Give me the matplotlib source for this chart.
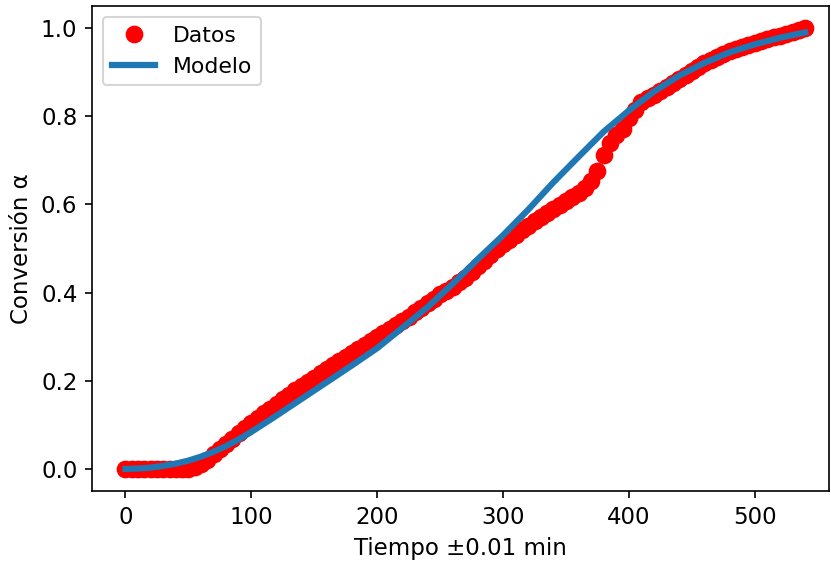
import numpy as np
import matplotlib
matplotlib.use("Agg")
import matplotlib.pyplot as plt

plt.rcParams['font.size'] = 11

t_datos = list(range(0, 545, 5))
alfa_datos = [0.0, 0.0, 0.0, 0.0, 0.0, 0.0, 0.0, 0.0, 0.0, 0.0, 0.001,
              0.004, 0.011, 0.021, 0.033, 0.045, 0.057, 0.069, 0.081, 0.093,
              0.105, 0.116, 0.126, 0.137, 0.147, 0.158, 0.168, 0.178, 0.188,
              0.198, 0.207, 0.217, 0.226, 0.236, 0.245, 0.254, 0.263, 0.273,
              0.282, 0.291, 0.300, 0.309, 0.318, 0.327, 0.336, 0.345, 0.355,
              0.365, 0.376, 0.386, 0.396, 0.404, 0.413, 0.423, 0.434, 0.447,
              0.460, 0.472, 0.485, 0.498, 0.510, 0.520, 0.530, 0.541, 0.552,
              0.562, 0.572, 0.581, 0.590, 0.599, 0.607, 0.616, 0.625, 0.638,
              0.652, 0.675, 0.712, 0.740, 0.757, 0.772, 0.795, 0.815, 0.833,
              0.841, 0.848, 0.857, 0.866, 0.876, 0.885, 0.894, 0.903, 0.912,
              0.920, 0.928, 0.935, 0.942, 0.948, 0.953, 0.958, 0.962, 0.966,
              0.971, 0.975, 0.979, 0.983, 0.987, 0.990, 0.995, 1.0]

# Modelo ajustado
t_modelo = [0, 10, 20, 30, 40, 50, 60, 70, 80, 90, 100, 120, 140, 160, 180,
            200, 220, 240, 260, 280, 300, 320, 340, 360, 380, 400, 420, 440,
            460, 480, 500, 520, 540]
alfa_modelo = [0.0, 0.001, 0.003, 0.007, 0.012, 0.019, 0.028, 0.039, 0.052,
               0.067, 0.084, 0.121, 0.159, 0.197, 0.235, 0.274, 0.320, 0.367,
               0.420, 0.476, 0.530, 0.588, 0.650, 0.708, 0.765, 0.813, 0.856,
               0.892, 0.921, 0.945, 0.963, 0.978, 0.990]

fig = plt.figure(figsize=(831 / 150, 563 / 150), dpi=150)
ax = fig.add_axes([92 / 831, 72 / 563, 737 / 831, 485 / 563])

ax.plot(t_datos, alfa_datos, 'ro', markersize=7.5, label='Datos')
ax.plot(t_modelo, alfa_modelo, color='tab:blue', linewidth=3, label='Modelo')

ax.set_xlim(-26.6, 559)
ax.set_ylim(-0.05, 1.05)
ax.set_xlabel('Tiempo ±0.01 min')
ax.set_ylabel('Conversión α')
ax.legend(loc='upper left', fontsize=10.5)

fig.savefig('out.png', dpi=150)
